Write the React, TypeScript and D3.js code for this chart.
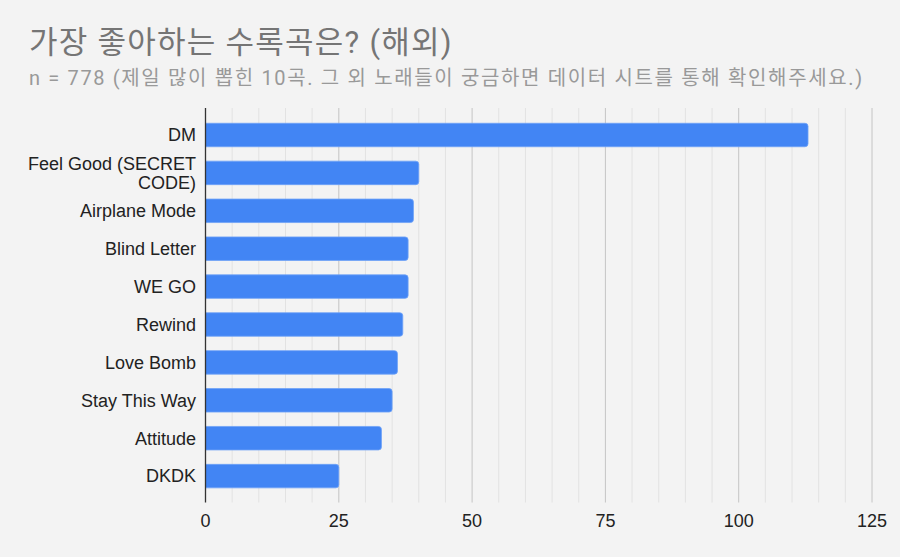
import React, { useRef, useEffect } from "react";
import * as d3 from "d3";

const width = 900;
const height = 557;

// 곡 이름 (두 줄 라벨은 배열로)
const songs = [
  ["DM"],
  ["Feel Good (SECRET", "CODE)"],
  ["Airplane Mode"],
  ["Blind Letter"],
  ["WE GO"],
  ["Rewind"],
  ["Love Bomb"],
  ["Stay This Way"],
  ["Attitude"],
  ["DKDK"],
];
const votes = [113, 40, 39, 38, 38, 37, 36, 35, 33, 25];
const xTicks = [0, 25, 50, 75, 100, 125];

const title = "가장 좋아하는 수록곡은? (해외)";
const subtitle =
  "n = 778 (제일 많이 뽑힌 10곡. 그 외 노래들이 궁금하면 데이터 시트를 통해 확인해주세요.)";

const left = 205.5;
const right = 872;
const plotTop = 108;
const plotBottom = 502.5;

export default function App() {
  const svgRef = useRef<SVGSVGElement>(null);

  useEffect(() => {
    document.body.style.margin = "0";
    if (!svgRef.current) return;
    const svg = d3.select(svgRef.current);
    svg.selectAll("*").remove();

    const font = "Roboto, 'Noto Sans CJK KR', sans-serif";
    const labelFont = "'Liberation Sans', Arial, 'Noto Sans CJK KR', sans-serif";

    svg.append("rect").attr("width", width).attr("height", height).attr("fill", "#f3f3f3");

    const x = d3.scaleLinear().domain([0, 125]).range([left, right]);
    const idx = d3.range(songs.length).map(String);
    const y = d3
      .scaleBand<string>()
      .domain(idx)
      .range([116.05, 495.05])
      .paddingInner(0.38)
      .paddingOuter(0.19);

    // 보조 눈금선
    const minor = d3.range(0, 126, 5).filter((v) => v % 25 !== 0);
    svg
      .append("g")
      .selectAll("line")
      .data(minor)
      .join("line")
      .attr("x1", (d) => x(d))
      .attr("x2", (d) => x(d))
      .attr("y1", plotTop)
      .attr("y2", plotBottom)
      .attr("stroke", "#e2e2e2")
      .attr("stroke-width", 1);

    svg
      .append("g")
      .selectAll("line")
      .data(xTicks.slice(1))
      .join("line")
      .attr("x1", (d) => x(d))
      .attr("x2", (d) => x(d))
      .attr("y1", plotTop)
      .attr("y2", plotBottom)
      .attr("stroke", "#c4c4c4")
      .attr("stroke-width", 1);

    // 막대 (오른쪽 모서리만 둥글게)
    const r = 3;
    svg
      .append("g")
      .selectAll("path")
      .data(votes)
      .join("path")
      .attr("d", (d, i) => {
        const y0 = y(String(i))!;
        const h = y.bandwidth();
        const x0 = x(0);
        const x1 = x(d);
        return `M${x0},${y0}H${x1 - r}Q${x1},${y0} ${x1},${y0 + r}V${y0 + h - r}Q${x1},${y0 + h} ${x1 - r},${y0 + h}H${x0}Z`;
      })
      .attr("fill", "#4285f4")
      .attr("stroke", "#6ea2f7")
      .attr("stroke-width", 0.8);

    // 0 축
    svg
      .append("line")
      .attr("x1", x(0))
      .attr("x2", x(0))
      .attr("y1", plotTop)
      .attr("y2", plotBottom)
      .attr("stroke", "#333")
      .attr("stroke-width", 1.3);

    // y 라벨
    const lab = svg
      .append("g")
      .selectAll("text")
      .data(songs)
      .join("text")
      .attr("text-anchor", "end")
      .attr("font-family", labelFont)
      .attr("font-size", 18)
      .attr("fill", "#222");
    lab.each(function (d, i) {
      const c = y(String(i))! + y.bandwidth() / 2;
      const lh = 19;
      const start = c - ((d.length - 1) * lh) / 2;
      d3.select(this)
        .selectAll("tspan")
        .data(d)
        .join("tspan")
        .attr("x", 196)
        .attr("y", (_, k) => start + k * lh)
        .attr("dy", "0.35em")
        .text((t) => t);
    });

    // x 눈금 라벨
    svg
      .append("g")
      .selectAll("text")
      .data(xTicks)
      .join("text")
      .attr("x", (d) => x(d))
      .attr("y", 527)
      .attr("text-anchor", "middle")
      .attr("font-family", labelFont)
      .attr("font-size", 18)
      .attr("fill", "#222")
      .text((d) => d);

    svg
      .append("text")
      .attr("x", 29)
      .attr("y", 53)
      .attr("font-family", font)
      .attr("font-size", 31)
      .attr("letter-spacing", 1.25)
      .attr("fill", "#757575")
      .text(title);

    svg
      .append("text")
      .attr("x", 29)
      .attr("y", 85)
      .attr("font-family", font)
      .attr("font-size", 20)
      .attr("letter-spacing", 1.65)
      .attr("fill", "#999")
      .text(subtitle);
  }, []);

  return <svg ref={svgRef} width={width} height={height} style={{ display: "block" }}></svg>;
}
